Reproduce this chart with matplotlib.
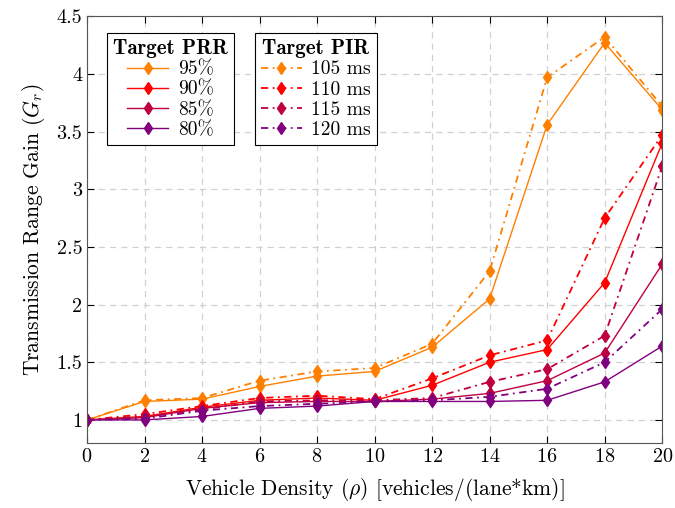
import matplotlib
matplotlib.use('Agg')
import matplotlib.pyplot as plt

plt.rcParams['font.family'] = 'serif'
plt.rcParams['font.serif'] = ['cmr10', 'DejaVu Serif']
plt.rcParams['mathtext.fontset'] = 'cm'
plt.rcParams['axes.formatter.use_mathtext'] = True

# data
density = [0, 2, 4, 6, 8, 10, 12, 14, 16, 18, 20]

prr_labels = ['95%', '90%', '85%', '80%']
prr_95 = [1.0, 1.16, 1.18, 1.29, 1.38, 1.42, 1.63, 2.05, 3.56, 4.27, 3.69]
prr_90 = [1.0, 1.03, 1.11, 1.17, 1.19, 1.17, 1.30, 1.50, 1.61, 2.19, 3.40]
prr_85 = [1.0, 1.02, 1.10, 1.15, 1.16, 1.16, 1.18, 1.23, 1.34, 1.58, 2.35]
prr_80 = [1.0, 1.00, 1.03, 1.10, 1.12, 1.16, 1.16, 1.16, 1.17, 1.33, 1.64]

pir_labels = ['105 ms', '110 ms', '115 ms', '120 ms']
pir_105 = [1.0, 1.17, 1.19, 1.34, 1.42, 1.45, 1.66, 2.29, 3.97, 4.32, 3.72]
pir_110 = [1.0, 1.05, 1.12, 1.19, 1.21, 1.18, 1.36, 1.56, 1.69, 2.75, 3.47]
pir_115 = [1.0, 1.03, 1.09, 1.16, 1.17, 1.17, 1.19, 1.33, 1.44, 1.73, 3.20]
pir_120 = [1.0, 1.01, 1.08, 1.12, 1.14, 1.16, 1.17, 1.20, 1.27, 1.50, 1.96]

colors = ['#ff8000', '#ff0000', '#bf0040', '#800080']

fig = plt.figure(figsize=(6.75, 5.08), dpi=100)
ax = fig.add_axes([0.129, 0.128, 0.852, 0.840])

prr_lines = []
for vals, lab, c in zip([prr_95, prr_90, prr_85, prr_80], prr_labels, colors):
    l, = ax.plot(density, vals, color=c, lw=1.0, marker='d', ms=6.5, label=lab)
    prr_lines.append(l)

pir_lines = []
for vals, lab, c in zip([pir_105, pir_110, pir_115, pir_120], pir_labels, colors):
    l, = ax.plot(density, vals, color=c, lw=1.3, marker='d', ms=6.5,
                 linestyle=(0, (4, 2.5, 1, 2.5)), label=lab)
    pir_lines.append(l)

ax.set_xlim(0, 20)
ax.set_ylim(0.8, 4.5)
ax.set_xticks(range(0, 21, 2))
ax.set_yticks([1, 1.5, 2, 2.5, 3, 3.5, 4, 4.5])
ax.set_yticklabels(['1', '1.5', '2', '2.5', '3', '3.5', '4', '4.5'])
ax.tick_params(direction='in', top=True, right=True, labelsize=14.5, length=5)
ax.grid(True, color='#d0d0d0', linestyle=(0, (5, 4)), lw=0.9)
for s in ax.spines.values():
    s.set_color('#555555')

ax.set_xlabel(r'Vehicle Density ($\rho$) [vehicles/(lane*km)]', fontsize=15.5, labelpad=7)
ax.set_ylabel(r'Transmission Range Gain ($G_r$)', fontsize=15.5, labelpad=7)

leg_kw = dict(loc='upper left', fancybox=False, edgecolor='black', framealpha=1,
              fontsize=14, handlelength=2.1, handletextpad=0.5, borderaxespad=0,
              labelspacing=0.12, borderpad=0.3,
              title_fontproperties={'family': 'cmb10', 'size': 15})
leg1 = ax.legend(handles=prr_lines, title='Target PRR', bbox_to_anchor=(0.035, 0.96), **leg_kw)
leg1.get_frame().set_linewidth(0.8)
ax.add_artist(leg1)
leg2 = ax.legend(handles=pir_lines, title='Target PIR', bbox_to_anchor=(0.292, 0.96), **leg_kw)
leg2.get_frame().set_linewidth(0.8)

fig.savefig('out.png', dpi=100)
